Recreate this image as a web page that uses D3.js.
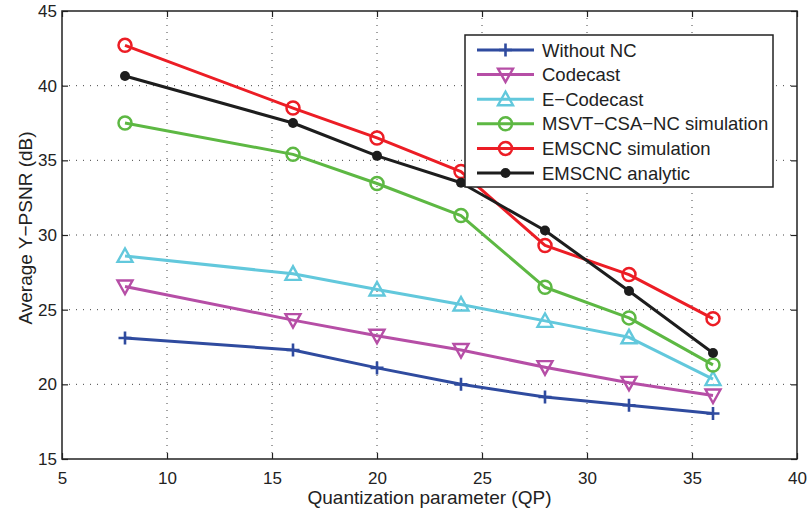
<!DOCTYPE html>
<html>
<head>
<meta charset="utf-8">
<script src="https://cdn.jsdelivr.net/npm/d3@7"></script>
<style>
  html, body { margin: 0; padding: 0; background: #fff; }
  svg { display: block; font-family: "Liberation Sans", Arial, Helvetica, sans-serif; }
</style>
</head>
<body>
<svg id="chart" width="807" height="512"></svg>
<script>
"use strict";

// data
var qp = [8, 16, 20, 24, 28, 32, 36];
var withoutNC = [23.1, 22.3, 21.1, 20.0, 19.15, 18.6, 18.05];
var codecast = [26.55, 24.3, 23.25, 22.3, 21.15, 20.1, 19.25];
var eCodecast = [28.6, 27.4, 26.35, 25.35, 24.25, 23.15, 20.35];
var msvtSim = [37.5, 35.4, 33.45, 31.3, 26.5, 24.45, 21.3];
var emscncSim = [42.7, 38.5, 36.5, 34.25, 29.3, 27.35, 24.4];
var emscncAna = [40.65, 37.5, 35.3, 33.5, 30.3, 26.25, 22.1];
var xTicks = [5, 10, 15, 20, 25, 30, 35, 40];
var yTicks = [15, 20, 25, 30, 35, 40, 45];

var series = [
    { name: "Without NC", values: withoutNC, color: "#2f4b9f", marker: "plus" },
    { name: "Codecast", values: codecast, color: "#b64ea6", marker: "tri-down" },
    { name: "E\u2212Codecast", values: eCodecast, color: "#62c8dc", marker: "tri-up" },
    { name: "MSVT\u2212CSA\u2212NC simulation", values: msvtSim, color: "#5db843", marker: "circle" },
    { name: "EMSCNC simulation", values: emscncSim, color: "#ec1d25", marker: "circle" },
    { name: "EMSCNC analytic", values: emscncAna, color: "#1d1d1d", marker: "dot" }
];

var pLeft = 62, pRight = 797, pTop = 11, pBottom = 459;

var svg = d3.select("#chart");

var x = d3.scaleLinear().domain([5, 40]).range([pLeft, pRight]);
var y = d3.scaleLinear().domain([15, 45]).range([pBottom, pTop]);

// grid (dotted, matlab style)
var grid = svg.append("g");
grid.selectAll("line.gx")
    .data(xTicks.slice(1, -1))
    .enter().append("line")
    .attr("x1", function (d) { return x(d); })
    .attr("x2", function (d) { return x(d); })
    .attr("y1", pTop).attr("y2", pBottom)
    .style("stroke", "#444").style("stroke-width", 1)
    .style("stroke-dasharray", "1,6");
grid.selectAll("line.gy")
    .data(yTicks.slice(1, -1))
    .enter().append("line")
    .attr("y1", function (d) { return y(d); })
    .attr("y2", function (d) { return y(d); })
    .attr("x1", pLeft).attr("x2", pRight)
    .style("stroke", "#444").style("stroke-width", 1)
    .style("stroke-dasharray", "1,6");

// axes with inward ticks on all four sides
var axisStyle = function (g) {
    g.select(".domain").remove();
    g.selectAll(".tick line").style("stroke", "#222").style("stroke-width", 1.2);
    g.selectAll(".tick text")
        .style("font-size", "17px")
        .style("fill", "#222")
        .style("font-family", "Liberation Sans, Arial, sans-serif");
};

svg.append("g")
    .attr("transform", "translate(0," + pBottom + ")")
    .call(d3.axisBottom(x).tickValues(xTicks).tickSizeInner(-6).tickSizeOuter(0).tickPadding(13))
    .call(axisStyle);
svg.append("g")
    .attr("transform", "translate(0," + pTop + ")")
    .call(d3.axisTop(x).tickValues(xTicks).tickSizeInner(-6).tickSizeOuter(0).tickFormat(""))
    .call(axisStyle);
svg.append("g")
    .attr("transform", "translate(" + pLeft + ",0)")
    .call(d3.axisLeft(y).tickValues(yTicks).tickSizeInner(-6).tickSizeOuter(0).tickPadding(5))
    .call(axisStyle);
svg.append("g")
    .attr("transform", "translate(" + pRight + ",0)")
    .call(d3.axisRight(y).tickValues(yTicks).tickSizeInner(-6).tickSizeOuter(0).tickFormat(""))
    .call(axisStyle);

// frame
svg.append("rect")
    .attr("x", pLeft).attr("y", pTop)
    .attr("width", pRight - pLeft).attr("height", pBottom - pTop)
    .style("fill", "none").style("stroke", "#222").style("stroke-width", 1.5);

// axis labels
svg.append("text")
    .attr("x", (pLeft + pRight) / 2).attr("y", 504)
    .attr("text-anchor", "middle")
    .style("font-size", "19px").style("fill", "#222")
    .text("Quantization parameter (QP)");
svg.append("text")
    .attr("transform", "translate(32,228) rotate(-90)")
    .attr("text-anchor", "middle")
    .style("font-size", "19px").style("fill", "#222")
    .text("Average Y\u2212PSNR (dB)");

// marker drawing
var drawMarker = function (g, type, color) {
    if (type === "plus") {
        g.append("path").attr("d", "M-6.5,0H6.5M0,-6.5V6.5")
            .style("stroke", color).style("stroke-width", 2.6).style("fill", "none");
    } else if (type === "tri-down") {
        g.append("path").attr("d", "M-7.5,-6L7.5,-6L0,7.5Z")
            .style("stroke", color).style("stroke-width", 2.4).style("fill", "none");
    } else if (type === "tri-up") {
        g.append("path").attr("d", "M-7.5,6L7.5,6L0,-7.5Z")
            .style("stroke", color).style("stroke-width", 2.4).style("fill", "none");
    } else if (type === "circle") {
        g.append("circle").attr("r", 6.5)
            .style("stroke", color).style("stroke-width", 2.5).style("fill", "none");
    } else if (type === "dot") {
        g.append("circle").attr("r", 5).style("fill", color);
    }
};

var line = d3.line()
    .x(function (d) { return x(d[0]); })
    .y(function (d) { return y(d[1]); });

series.forEach(function (s) {
    var pts = qp.map(function (q, i) { return [q, s.values[i]]; });
    var g = svg.append("g");
    g.append("path")
        .datum(pts)
        .attr("d", line)
        .style("fill", "none")
        .style("stroke", s.color)
        .style("stroke-width", 3)
        .style("stroke-linejoin", "round");
    g.selectAll("g.m")
        .data(pts)
        .enter().append("g")
        .attr("transform", function (d) { return "translate(" + x(d[0]) + "," + y(d[1]) + ")"; })
        .each(function () { drawMarker(d3.select(this), s.marker, s.color); });
});

// legend
var lg = svg.append("g").attr("transform", "translate(465,35)");
lg.append("rect")
    .attr("width", 308).attr("height", 152)
    .style("fill", "#fff").style("stroke", "#222").style("stroke-width", 1.5);
series.forEach(function (s, i) {
    var row = lg.append("g").attr("transform", "translate(0," + (15 + i * 24.6) + ")");
    row.append("line").attr("x1", 12).attr("x2", 69)
        .style("stroke", s.color).style("stroke-width", 3);
    drawMarker(row.append("g").attr("transform", "translate(40.5,0)"), s.marker, s.color);
    row.append("text").attr("x", 77).attr("y", 6.6)
        .style("font-size", "18.5px").style("fill", "#222")
        .text(s.name);
});
</script>
</body>
</html>
